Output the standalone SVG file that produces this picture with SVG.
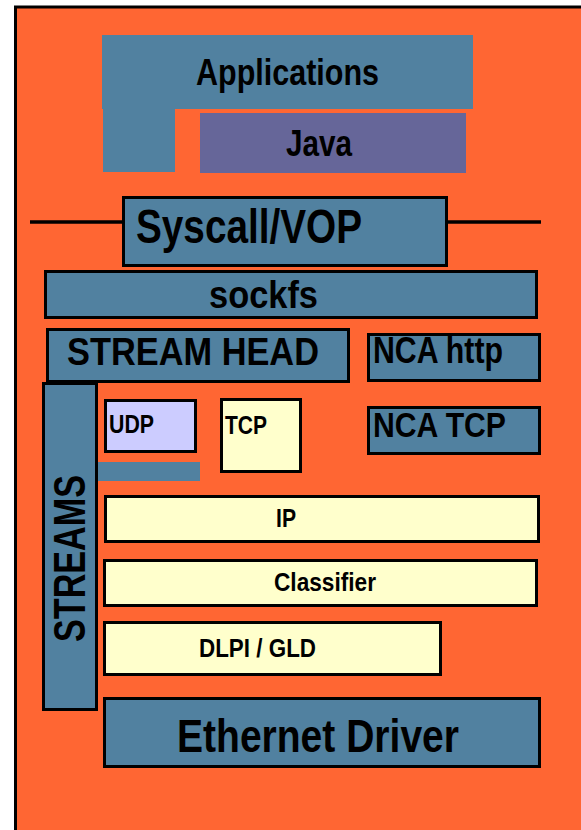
<svg xmlns="http://www.w3.org/2000/svg" width="581" height="830" viewBox="0 0 581 830">
  <style>
    .frame { fill: #FF6633; stroke: #000; stroke-width: 3; }
    .blue { fill: #5181A0; }
    .box { stroke: #000; stroke-width: 3; }
    .yellow { fill: #FFFFCC; }
    .lilac { fill: #CCCCFF; }
    .java { fill: #666699; }
    .lbl { font-family: "Liberation Sans", Arial, sans-serif; font-weight: bold; fill: #000; }
    .wire { stroke: #000; stroke-width: 3.5; fill: none; }
  </style>

  <!-- page background and framed panel -->
  <rect x="0" y="0" width="581" height="830" fill="#fff"/>
  <rect class="frame" x="15.5" y="7" width="600" height="900"/>

  <!-- user / kernel boundary line -->
  <g id="connectors">
    <line class="wire" x1="30" y1="222" x2="541" y2="222"/>
  </g>

  <g id="applications">
    <path class="blue" d="M102 35 H473 V109 H175 V172 H103 V109 H102 Z"/>
    <text class="lbl" x="196" y="85" font-size="37" textLength="183" lengthAdjust="spacingAndGlyphs">Applications</text>
  </g>

  <g id="java">
    <rect class="java" x="200" y="113" width="266" height="60"/>
    <text class="lbl" x="286" y="156" font-size="36" textLength="66" lengthAdjust="spacingAndGlyphs">Java</text>
  </g>

  <g id="syscall">
    <rect class="blue box" x="123.5" y="197.5" width="323" height="68"/>
    <text class="lbl" x="136" y="243" font-size="48" textLength="226" lengthAdjust="spacingAndGlyphs">Syscall/VOP</text>
  </g>

  <g id="sockfs">
    <rect class="blue box" x="45.5" y="271.5" width="491" height="46"/>
    <text class="lbl" x="209" y="308" font-size="38" textLength="109" lengthAdjust="spacingAndGlyphs">sockfs</text>
  </g>

  <g id="stream-head">
    <rect class="blue box" x="47.5" y="329.5" width="301" height="52"/>
    <text class="lbl" x="67" y="365" font-size="39" textLength="252" lengthAdjust="spacingAndGlyphs">STREAM HEAD</text>
  </g>

  <g id="nca-http">
    <rect class="blue box" x="368.5" y="334.5" width="171" height="46"/>
    <text class="lbl" x="373" y="363" font-size="36" textLength="130" lengthAdjust="spacingAndGlyphs">NCA http</text>
  </g>

  <g id="nca-tcp">
    <rect class="blue box" x="368.5" y="407.5" width="171" height="46"/>
    <text class="lbl" x="373" y="437" font-size="35" textLength="133" lengthAdjust="spacingAndGlyphs">NCA TCP</text>
  </g>

  <g id="streams">
    <rect class="blue box" x="43.5" y="383.5" width="53" height="326"/>
    <text class="lbl" transform="translate(85 642) rotate(-90)" x="0" y="0" font-size="45" textLength="167" lengthAdjust="spacingAndGlyphs">STREAMS</text>
  </g>

  <g id="udp">
    <rect class="lilac box" x="105.5" y="400.5" width="90" height="51"/>
    <text class="lbl" x="109" y="433" font-size="25" textLength="45" lengthAdjust="spacingAndGlyphs">UDP</text>
  </g>

  <g id="udp-link">
    <rect class="blue" x="98" y="462" width="102" height="19"/>
  </g>

  <g id="tcp">
    <rect class="yellow box" x="221.5" y="399.5" width="79" height="72"/>
    <text class="lbl" x="225" y="434" font-size="25" textLength="42" lengthAdjust="spacingAndGlyphs">TCP</text>
  </g>

  <g id="ip">
    <rect class="yellow box" x="105.5" y="496.5" width="433" height="45"/>
    <text class="lbl" x="276" y="527" font-size="26" textLength="20" lengthAdjust="spacingAndGlyphs">IP</text>
  </g>

  <g id="classifier">
    <rect class="yellow box" x="104.5" y="560.5" width="432" height="45"/>
    <text class="lbl" x="274" y="591" font-size="26" textLength="102" lengthAdjust="spacingAndGlyphs">Classifier</text>
  </g>

  <g id="dlpi-gld">
    <rect class="yellow box" x="104.5" y="622.5" width="336" height="52"/>
    <text class="lbl" x="199" y="657" font-size="26" textLength="117" lengthAdjust="spacingAndGlyphs">DLPI / GLD</text>
  </g>

  <g id="ethernet-driver">
    <rect class="blue box" x="104.5" y="698.5" width="435" height="68"/>
    <text class="lbl" x="177" y="752" font-size="47" textLength="282" lengthAdjust="spacingAndGlyphs">Ethernet Driver</text>
  </g>
</svg>
